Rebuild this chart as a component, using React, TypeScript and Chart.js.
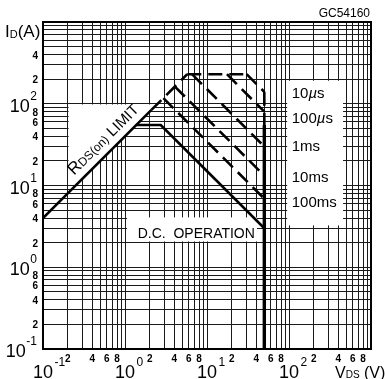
import React, { useEffect, useRef } from 'react';
import { Chart, registerables } from 'chart.js';

Chart.register(...registerables);

const FONT = '"Liberation Sans", Arial, Helvetica, sans-serif';

// ---- axes ----
const axisMin = 0.1;
const axisMax = 1000;
const gridDecades = [0.1, 1, 10, 100];
const gridMultiples = [1, 2, 3, 4, 5, 6, 7, 8, 9];

const xDecadeTicks = [0.1, 1, 10, 100];
const xDecadeExponents = ['-1', '0', '1', '2'];
const xMinorTicks = [0.2, 0.4, 0.6, 0.8, 2, 4, 6, 8, 20, 40, 60, 80, 200, 400, 600, 800];
const xMinorLabels = ['2', '4', '6', '8', '2', '4', '6', '8', '2', '4', '6', '8', '2', '4', '6', '8'];

const yDecadeTicks = [0.1, 1, 10, 100];
const yDecadeExponents = ['-1', '0', '1', '2'];
const yMinorTicks = [0.2, 0.4, 0.6, 0.8, 2, 4, 6, 8, 20, 40, 60, 80, 200, 400];
const yMinorLabels = ['2', '4', '6', '8', '2', '4', '6', '8', '2', '4', '6', '8', '2', '4'];

// ---- curves (V_DS in volts, I_D in amperes) ----
const rdsLimitV = [0.1, 2.1];
const rdsLimitI = [4, 84];
const rdsPulseV = [2.1, 5.75];
const rdsPulseI = [84, 230];
const peakCurrentV = [5.75, 30.4];
const peakCurrentI = [230, 230];
const dcV = [1.375, 2.73, 50];
const dcI = [55, 55, 3];
const pulseNames = ['10µs', '100µs', '1ms', '10ms', '100ms'];
const pulseStartV = [30.4, 17.5, 6.56, 4.06, 2.94];
const pulseStartI = [230, 230, 230, 162, 117];
const pulseEndV = [50, 50, 50, 50, 50];
const pulseEndI = [140, 80, 30, 13.2, 6.9];
const vdssV = [50, 50];
const vdssDashedI = [140, 55];
const vdssSolidI = [55, 0.1];

const gridValues: number[] = [];
gridDecades.forEach((d) => gridMultiples.forEach((m) => gridValues.push(+(d * m).toPrecision(3))));
gridValues.push(axisMax);

const pts = (vs: number[], is: number[]) => vs.map((v, k) => ({ x: v, y: is[k] }));
const solid = (data: any, width = 2.6) => ({
  data,
  borderColor: '#000',
  backgroundColor: '#000',
  borderWidth: width,
  pointRadius: 0,
  fill: false,
  tension: 0,
});
const dashed = (data: any) => ({ ...solid(data), borderDash: [14, 7] });

function runs(ctx: CanvasRenderingContext2D, x: number, y: number, parts: [string, string, number][]) {
  let cx = x;
  for (const [t, f, dy] of parts) {
    ctx.font = f;
    ctx.fillText(t, cx, y + dy);
    cx += ctx.measureText(t).width;
  }
}

const sketchPlugin = {
  id: 'sketch',
  beforeDatasetsDraw(chart: any) {
    const { ctx } = chart;
    const xs = chart.scales.x;
    const ys = chart.scales.y;
    const P = (v: number, i: number) => [xs.getPixelForValue(v), ys.getPixelForValue(i)];
    ctx.save();
    ctx.fillStyle = '#fff';
    const boxes = [
      [95, 456, 3.25, 191],
      [1.06, 40.7, 2.07, 4.07],
    ];
    for (const [v0, v1, i0, i1] of boxes) {
      const [x0, y0] = P(v0, i1);
      const [x1, y1] = P(v1, i0);
      ctx.fillRect(x0, y0, x1 - x0, y1 - y0);
    }
    const poly = [
      [0.205, 98],
      [2.45, 98],
      [0.2575, 10.3],
      [0.205, 10.3],
    ];
    ctx.beginPath();
    poly.forEach(([v, i], k) => {
      const [px, py] = P(v, i);
      if (k === 0) ctx.moveTo(px, py);
      else ctx.lineTo(px, py);
    });
    ctx.closePath();
    ctx.fill();
    ctx.restore();
  },
  afterDraw(chart: any) {
    const { ctx, chartArea } = chart;
    const xs = chart.scales.x;
    const ys = chart.scales.y;
    ctx.save();
    ctx.strokeStyle = '#000';
    ctx.lineWidth = 2;
    ctx.strokeRect(chartArea.left, chartArea.top, chartArea.right - chartArea.left, chartArea.bottom - chartArea.top);

    ctx.fillStyle = '#000';
    ctx.textBaseline = 'alphabetic';
    ctx.textAlign = 'left';
    const big = `18px ${FONT}`;
    const sup = `12px ${FONT}`;
    const small = `bold 10px ${FONT}`;

    yDecadeTicks.forEach((v, k) => {
      const py = ys.getPixelForValue(v);
      ctx.font = big;
      const w10 = ctx.measureText('10').width;
      ctx.font = sup;
      const we = ctx.measureText(yDecadeExponents[k]).width;
      const xe = 37 - we;
      ctx.font = big;
      ctx.fillText('10', xe - w10 - 0.5, py + 8);
      ctx.font = sup;
      ctx.fillText(yDecadeExponents[k], xe, py - 4);
    });
    ctx.font = small;
    ctx.textAlign = 'right';
    yMinorTicks.forEach((v, k) => {
      const py = ys.getPixelForValue(v);
      ctx.fillText(yMinorLabels[k], 38, py + 4);
    });
    ctx.textAlign = 'center';
    xMinorTicks.forEach((v, k) => {
      const px = xs.getPixelForValue(v);
      ctx.fillText(xMinorLabels[k], px, 362);
    });
    ctx.textAlign = 'left';
    xDecadeTicks.forEach((v, k) => {
      const px = xs.getPixelForValue(v);
      ctx.font = big;
      const w10 = ctx.measureText('10').width;
      ctx.fillText('10', px - w10 / 2, 378);
      ctx.font = sup;
      ctx.fillText(xDecadeExponents[k], px + w10 / 2 + 1.5, 366);
    });

    runs(ctx, 5, 37, [
      ['I', `17px ${FONT}`, 0],
      ['D', `11px ${FONT}`, 1],
      ['(A)', `17px ${FONT}`, 0],
    ]);
    runs(ctx, 335, 378, [
      ['V', `16px ${FONT}`, 0],
      ['DS', `10px ${FONT}`, 0],
    ]);
    ctx.font = `16px ${FONT}`;
    ctx.fillText('(V)', 364, 378);
    ctx.font = `12px ${FONT}`;
    ctx.textAlign = 'right';
    ctx.fillText('GC54160', 370, 17);
    ctx.textAlign = 'left';

    const labelV = 108;
    const labelI = [118, 58.6, 26.7, 10.9, 5.4];
    const lx = xs.getPixelForValue(labelV);
    const f15 = `15px ${FONT}`;
    const f15i = `italic 15px ${FONT}`;
    pulseNames.forEach((name, k) => {
      const py = ys.getPixelForValue(labelI[k]);
      const mu = name.indexOf('µ');
      if (mu >= 0) {
        runs(ctx, lx, py, [
          [name.slice(0, mu), f15, 0],
          ['µ', f15i, 0],
          [name.slice(mu + 1), f15, 0],
        ]);
      } else {
        runs(ctx, lx, py, [[name, f15, 0]]);
      }
    });

    ctx.font = `14px ${FONT}`;
    ctx.textAlign = 'center';
    ctx.fillText('D.C.  OPERATION', xs.getPixelForValue(7.4), ys.getPixelForValue(2.3));
    ctx.textAlign = 'left';

    const ax = xs.getPixelForValue(rdsLimitV[0]);
    const ay = ys.getPixelForValue(rdsLimitI[0]);
    const bx = xs.getPixelForValue(rdsLimitV[1]);
    const by = ys.getPixelForValue(rdsLimitI[1]);
    const ang = Math.atan2(by - ay, bx - ax);
    const sv = 0.28;
    const sx = xs.getPixelForValue(sv);
    const sy = ys.getPixelForValue(sv * (rdsLimitI[1] / rdsLimitV[1]));
    ctx.translate(sx, sy);
    ctx.rotate(ang);
    runs(ctx, 0, -8, [
      ['R', `17px ${FONT}`, 0],
      ['DS', `12px ${FONT}`, 0],
      ['(on)', `12px ${FONT}`, 0],
      [' LIMIT', `15px ${FONT}`, 0],
    ]);
    ctx.restore();
  },
};

export default function App() {
  const ref = useRef<HTMLCanvasElement | null>(null);
  useEffect(() => {
    if (!ref.current) return;
    const datasets: any[] = [
      solid(pts(rdsLimitV, rdsLimitI)),
      dashed(pts(rdsPulseV, rdsPulseI)),
      dashed(pts(peakCurrentV, peakCurrentI)),
      ...pulseNames.map((_, k) =>
        dashed(pts([pulseStartV[k], pulseEndV[k]], [pulseStartI[k], pulseEndI[k]]))
      ),
      dashed(pts(vdssV, vdssDashedI)),
      solid(pts(dcV, dcI)),
      solid(pts(vdssV, vdssSolidI), 3.4),
    ];
    const gridOpts = {
      display: true,
      color: '#1a1a1a',
      lineWidth: 1,
      drawTicks: false,
    };
    const chart = new Chart(ref.current, {
      type: 'line',
      data: { datasets },
      options: {
        animation: false,
        responsive: false,
        devicePixelRatio: 1,
        events: [],
        layout: { padding: { left: 43, right: 14, top: 22, bottom: 30 } },
        plugins: { legend: { display: false }, tooltip: { enabled: false } },
        scales: {
          x: {
            type: 'logarithmic',
            min: axisMin,
            max: axisMax,
            grid: gridOpts,
            border: { display: false },
            ticks: { display: false },
            afterBuildTicks: (s: any) => {
              s.ticks = gridValues.map((v) => ({ value: v }));
            },
            afterFit: (s: any) => {
              s.height = 0;
            },
          },
          y: {
            type: 'logarithmic',
            min: axisMin,
            max: axisMax,
            grid: gridOpts,
            border: { display: false },
            ticks: { display: false },
            afterBuildTicks: (s: any) => {
              s.ticks = gridValues.map((v) => ({ value: v }));
            },
            afterFit: (s: any) => {
              s.width = 0;
            },
          },
        },
      } as any,
      plugins: [sketchPlugin],
    });
    return () => chart.destroy();
  }, []);
  return (
    <div style={{ position: 'absolute', left: 0, top: 0, width: 385, height: 379, background: '#fff' }}>
      <canvas ref={ref} width={385} height={379} />
    </div>
  );
}
